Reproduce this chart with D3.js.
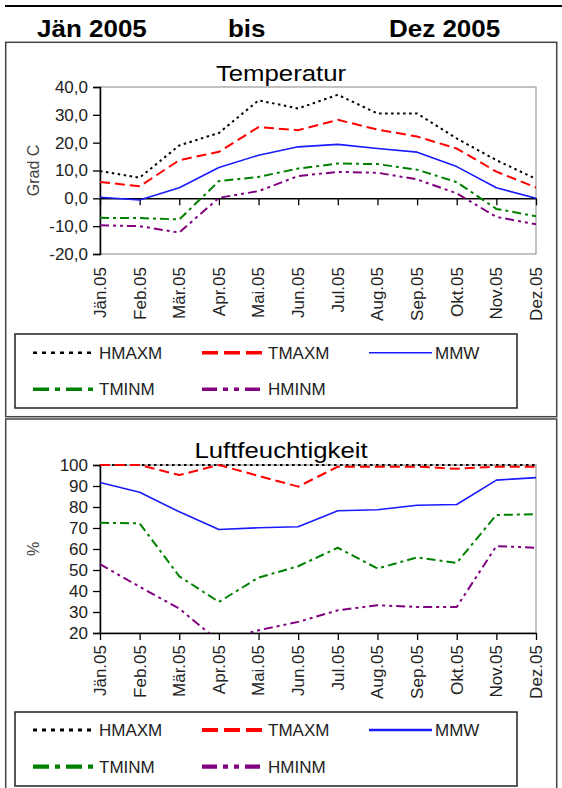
<!DOCTYPE html>
<html>
<head>
<meta charset="utf-8">
<script src="https://cdn.jsdelivr.net/npm/d3@7"></script>
<style>
    body { margin: 0; background: white; }
    svg { display: block; font-family: "Liberation Sans", Arial, sans-serif; }
</style>
</head>
<body>
<div id="container"></div>
<script>
// months on the x axis
const months = ["Jän.05", "Feb.05", "Mär.05", "Apr.05", "Mai.05", "Jun.05",
    "Jul.05", "Aug.05", "Sep.05", "Okt.05", "Nov.05", "Dez.05"];
const seriesNames = ["HMAXM", "TMAXM", "MMW", "TMINM", "HMINM"];

// Temperatur (Grad C)
const tempHMAXM = [9.8, 7.4, 19.0, 23.5, 35.2, 32.3, 37.2, 30.5, 30.5, 21.5, 13.7, 7.0];
const tempTMAXM = [5.9, 4.3, 13.7, 16.7, 25.6, 24.5, 28.2, 24.7, 22.2, 17.9, 9.6, 3.9];
const tempMMW = [0.4, -0.6, 3.8, 11.1, 15.5, 18.5, 19.4, 17.9, 16.6, 11.4, 3.8, 0.0];
const tempTMINM = [-7.0, -7.1, -7.6, 6.2, 7.7, 10.7, 12.5, 12.3, 10.3, 5.8, -3.8, -6.4];
const tempHMINM = [-9.7, -10.0, -12.3, 0.2, 2.6, 8.0, 9.5, 9.2, 6.8, 1.8, -6.7, -9.3];
const tempTicks = [-20, -10, 0, 10, 20, 30, 40];

// Luftfeuchtigkeit (%)
const humHMAXM = [100, 100, 100, 100, 100, 100, 100, 100, 100, 100, 100, 100];
const humTMAXM = [100, 100, 95.2, 100, 94.8, 89.7, 99.2, 99.2, 99.2, 98.2, 99.2, 99.2];
const humMMW = [91.7, 87.0, 77.7, 69.3, 70.1, 70.6, 78.2, 78.7, 80.8, 81.2, 92.8, 94.0];
const humTMINM = [72.5, 72.2, 47.0, 34.8, 46.4, 51.8, 60.6, 50.7, 56.0, 53.4, 76.2, 76.6];
const humHMINM = [52.8, 42.0, 31.6, 16.0, 21.3, 25.3, 30.8, 33.2, 32.4, 32.4, 61.4, 60.6];
const humTicks = [20, 30, 40, 50, 60, 70, 80, 90, 100];

const W = 562, H = 788;
const deLocale = d3.formatLocale({decimal: ",", thousands: ".", grouping: [3], currency: ["", " €"], minus: "-"});

// line look per series: chart line and legend sample
const style = {
    HMAXM: {color: "#000000", width: 2, dash: "2.5,3.5", legDash: "4,5", legWidth: 2.5},
    TMAXM: {color: "#ff0000", width: 2, dash: "10,5", legDash: "16,6", legWidth: 3.5},
    MMW:   {color: "#1a1aff", width: 1.6, dash: null, legDash: null, legWidth: 1.6},
    TMINM: {color: "#008000", width: 2, dash: "9,4,3,4", legDash: "16,6,5,6", legWidth: 3.5},
    HMINM: {color: "#800080", width: 2, dash: "9,4,3,4,3,4", legDash: "15,6,5,6,5,6", legWidth: 3.5}
};

const svg = d3.select("#container").append("svg")
    .attr("width", W)
    .attr("height", H);

// text slightly stretched in x, like the scanned original
function wideText(sel, x, y, txt, size, sx, anchor, weight) {
    return sel.append("text")
        .attr("transform", `translate(${x},${y}) scale(${sx},1)`)
        .attr("text-anchor", anchor)
        .attr("font-size", size)
        .attr("font-weight", weight || "normal")
        .attr("fill", "#000")
        .text(txt);
}

// header
svg.append("line")
    .attr("x1", 5).attr("x2", W).attr("y1", 6).attr("y2", 6)
    .attr("stroke", "#000").attr("stroke-width", 2);
wideText(svg, 37, 37, "Jän 2005", 23, 1.13, "start", "bold");
wideText(svg, 228, 37, "bis", 23, 1.13, "start", "bold");
wideText(svg, 389, 37, "Dez 2005", 23, 1.13, "start", "bold");

function drawPanel(p) {
    const g = svg.append("g");

    g.append("rect")
        .attr("x", 5.7).attr("y", p.boxTop)
        .attr("width", 551).attr("height", p.boxBottom - p.boxTop)
        .attr("fill", "none").attr("stroke", "#444").attr("stroke-width", 1.5);

    wideText(g, 281, p.titleY, p.title, 23, 1.12, "middle");

    const x = d3.scalePoint(months, [100, 536]);
    const y = d3.scaleLinear([p.ticks[0], p.ticks[p.ticks.length - 1]], [p.bottom, p.top]);

    // plot frame (grey)
    g.append("rect")
        .attr("x", 100).attr("y", p.top)
        .attr("width", 436).attr("height", p.bottom - p.top)
        .attr("fill", "none").attr("stroke", "#999").attr("stroke-width", 1.2);

    // y axis
    const yAxis = g.append("g")
        .attr("transform", "translate(100,0)")
        .call(d3.axisLeft(y).tickValues(p.ticks).tickSize(7).tickPadding(5)
            .tickFormat(p.fmt))
    yAxis.select(".domain").attr("stroke-width", 1.5);
    yAxis.selectAll("line").attr("stroke-width", 1.3);
    yAxis.selectAll("text").attr("font-size", 17).attr("fill", "#222")
        .attr("font-family", "Liberation Sans, Arial, sans-serif");

    // x axis sits on p.axisAt, labels are below the plot
    const xAxis = g.append("g")
        .attr("transform", `translate(0,${y(p.axisAt)})`)
        .call(d3.axisBottom(x).tickSize(7).tickSizeOuter(0).tickFormat(""));
    xAxis.select(".domain").attr("stroke-width", 1.5);
    xAxis.selectAll("line").attr("stroke-width", 1.3);

    g.selectAll(".xlab")
        .data(months)
        .join("text")
        .attr("class", "xlab")
        .attr("transform", d => `translate(${x(d)},${p.labelY}) rotate(-90)`)
        .attr("text-anchor", "end")
        .attr("dy", "0.35em")
        .attr("font-size", 17)
        .attr("fill", "#222")
        .text(d => d);

    // axis title
    g.append("text")
        .attr("transform", `translate(33,${(p.top + p.bottom) / 2}) rotate(-90)`)
        .attr("text-anchor", "middle")
        .attr("dy", "0.35em")
        .attr("font-size", 16)
        .attr("fill", "#444")
        .text(p.yTitle);

    // lines, clipped to the plot area
    const clipId = "clip-" + p.id;
    g.append("clipPath").attr("id", clipId)
        .append("rect")
        .attr("x", 99).attr("y", p.top - 2)
        .attr("width", 439).attr("height", p.bottom - p.top + 2);

    const line = d3.line()
        .x((d, i) => x(months[i]))
        .y(d => y(d));

    const lines = g.append("g").attr("clip-path", `url(#${clipId})`);
    seriesNames.forEach(name => {
        const s = style[name];
        lines.append("path")
            .datum(p.series[name])
            .attr("d", line)
            .attr("fill", "none")
            .attr("stroke", s.color)
            .attr("stroke-width", s.width)
            .attr("stroke-dasharray", s.dash)
            .attr("stroke-linejoin", "round");
    });

    // legend
    g.append("rect")
        .attr("x", 15).attr("y", p.legTop)
        .attr("width", 502).attr("height", p.legBottom - p.legTop)
        .attr("fill", "none").attr("stroke", "#222").attr("stroke-width", 1.5);

    const cols = [33, 202, 369];
    seriesNames.forEach((name, i) => {
        const s = style[name];
        const lx = cols[i % 3];
        const ly = p.legRows[Math.floor(i / 3)];
        g.append("line")
            .attr("x1", lx).attr("x2", lx + 63)
            .attr("y1", ly).attr("y2", ly)
            .attr("stroke", s.color)
            .attr("stroke-width", s.legWidth + (p.id === "hum" ? 0.7 : 0))
            .attr("stroke-dasharray", s.legDash);
        g.append("text")
            .attr("x", lx + 66).attr("y", ly)
            .attr("dy", "0.35em")
            .attr("font-size", 17)
            .attr("fill", "#222")
            .text(name);
    });
}

const fmt1 = deLocale.format(".1f");

drawPanel({
    id: "temp", title: "Temperatur", yTitle: "Grad C",
    boxTop: 42.3, boxBottom: 416.7, titleY: 81,
    top: 87, bottom: 254, labelY: 267, axisAt: 0,
    ticks: tempTicks, fmt: fmt1,
    series: {HMAXM: tempHMAXM, TMAXM: tempTMAXM, MMW: tempMMW, TMINM: tempTMINM, HMINM: tempHMINM},
    legTop: 334, legBottom: 408, legRows: [352.7, 389.3]
});

drawPanel({
    id: "hum", title: "Luftfeuchtigkeit", yTitle: "%",
    boxTop: 419, boxBottom: 795, titleY: 458,
    top: 465, bottom: 633, labelY: 645, axisAt: 20,
    ticks: humTicks, fmt: d3.format("d"),
    series: {HMAXM: humHMAXM, TMAXM: humTMAXM, MMW: humMMW, TMINM: humTMINM, HMINM: humHMINM},
    legTop: 712, legBottom: 786, legRows: [730, 766.7]
});
</script>
</body>
</html>
